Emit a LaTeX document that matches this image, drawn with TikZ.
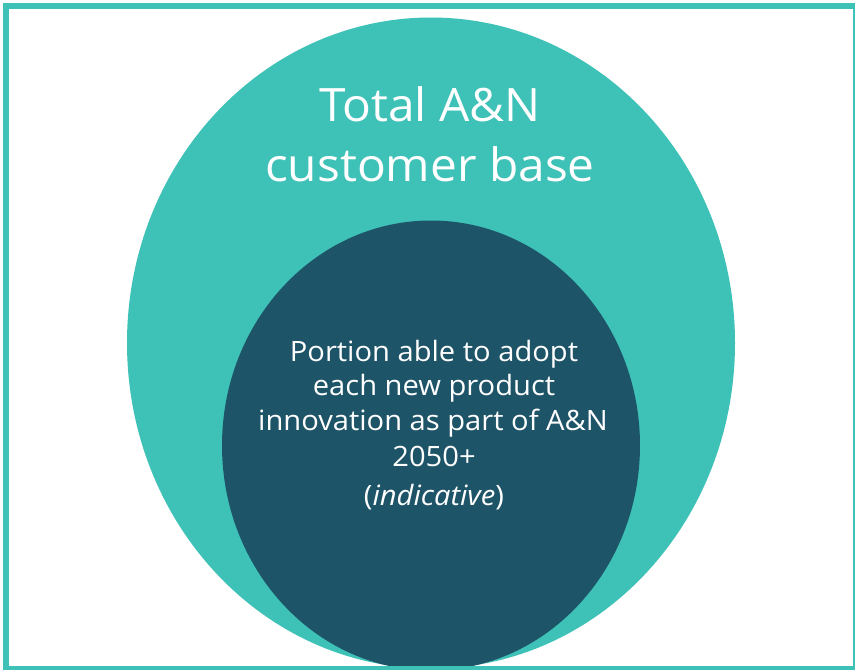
\documentclass[tikz,border=0pt]{standalone}
\usepackage{fontspec}
\setmainfont{Open Sans}[FakeStretch=1.04]
\definecolor{tealc}{HTML}{3EC1B6}
\definecolor{darkc}{HTML}{1E5468}
\begin{document}
\begin{tikzpicture}[x=1pt,y=-1pt,
  bigtxt/.style={text=white,anchor=base,inner sep=0pt,font=\fontsize{46}{60}\selectfont},
  smalltxt/.style={text=white,anchor=base,inner sep=0pt,font=\fontsize{28}{35}\selectfont}]
\useasboundingbox (0,0) rectangle (855,670);
\fill[white] (0,0) rectangle (855,670);
\fill[tealc] (431,343) ellipse [x radius=304, y radius=325.5];
\fill[darkc] (431,445.5) ellipse [x radius=209, y radius=225];
\node[bigtxt] (t1) at (430,121.7) {Total A\&N};
\node[bigtxt] (t2) at (430,181.7) {customer base};
\node[smalltxt] (s1) at (434,361) {Portion able to adopt};
\node[smalltxt] (s2) at (434,395.7) {each new product};
\node[smalltxt] (s3) at (433,430) {innovation as part of A\&N};
\node[smalltxt] (s4) at (434,466) {2050+};
\node[smalltxt] (s5) at (434,505) {(\textit{indicative})};
\draw[tealc,line width=6] (6,6) rectangle (856,669);
\end{tikzpicture}
\end{document}
